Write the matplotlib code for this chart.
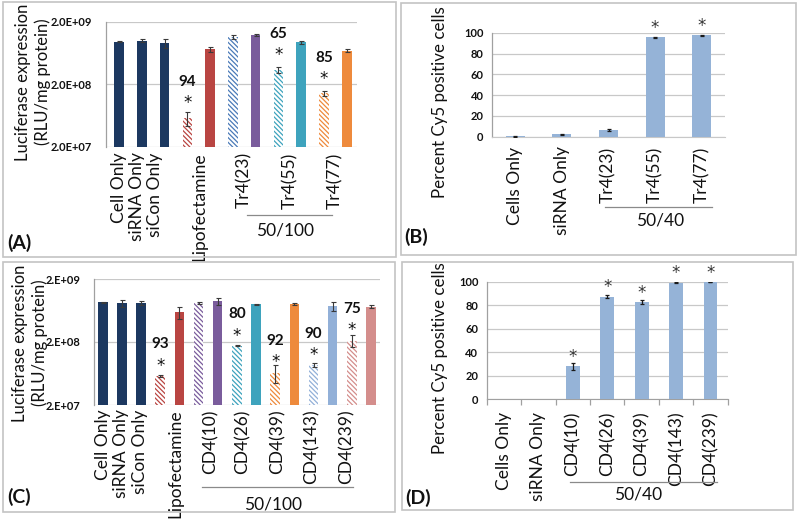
import numpy as np
import matplotlib
matplotlib.use('Agg')
import matplotlib.pyplot as plt
from matplotlib.lines import Line2D
from matplotlib.patches import Rectangle

plt.rcParams['font.family'] = ['Lato', 'DejaVu Sans']
plt.rcParams['hatch.linewidth'] = 0.9

W, H = 800, 520
TXT = '#111111'
GRID = '#c8c8c8'
AXC = '#a0a0a0'

NAVY = '#1c3860'
RED = '#b94542'
BLUE = '#4a7ab8'
PURPLE = '#7a5c9c'
TEAL = '#3ea3bd'
ORANGE = '#ee8a3c'
LBLUE = '#92b0d8'
PINK = '#d48e8c'

# ---------------- Panel A data ----------------
a_values = [9.6e8, 9.9e8, 9.0e8, 5.8e7, 7.2e8, 1.14e9, 1.22e9, 3.4e8, 9.4e8, 1.43e8, 6.9e8]
a_errors = [3e7, 5e7, 1.4e8, 1.5e7, 7.5e7, 7e7, 4e7, 4e7, 5e7, 1.3e7, 4e7]
a_colors = [NAVY, NAVY, NAVY, RED, RED, BLUE, PURPLE, TEAL, TEAL, ORANGE, ORANGE]
a_hatched = [0, 0, 0, 1, 0, 1, 0, 1, 0, 1, 0]
a_kd_index = [3, 7, 9]
a_kd_text = ['94', '65', '85']
a_tick_labels = ['Cell Only', 'siRNA Only', 'siCon Only', 'Lipofectamine', 'Tr4(23)', 'Tr4(55)', 'Tr4(77)']
a_tick_pos = [0, 0.8, 1.6, 3.55, 5.5, 7.5, 9.5]
a_yticks = [2e7, 2e8, 2e9]
a_yticklabels = ['2.0E+07', '2.0E+08', '2.0E+09']

# ---------------- Panel B data ----------------
b_labels = ['Cells Only', 'siRNA Only', 'Tr4(23)', 'Tr4(55)', 'Tr4(77)']
b_values = [0.3, 2.5, 6.5, 95.5, 97.6]
b_errors = [0.2, 0.4, 1.3, 0.8, 0.3]
b_star = [0, 0, 0, 1, 1]

# ---------------- Panel C data ----------------
c_values = [8.5e8, 8.3e8, 8.3e8, 5.8e7, 5.9e8, 8.3e8, 8.85e8, 1.73e8, 7.9e8, 6.5e7, 8.0e8, 8.6e7, 7.4e8, 2.1e8, 7.3e8]
c_errors = [2e7, 1.1e8, 7e7, 1.5e6, 1.2e8, 4e7, 1e8, 3e6, 1e7, 2.1e7, 4e7, 6e6, 1.2e8, 4.5e7, 4e7]
c_colors = [NAVY, NAVY, NAVY, RED, RED, PURPLE, PURPLE, TEAL, TEAL, ORANGE, ORANGE, LBLUE, LBLUE, PINK, PINK]
c_hatched = [0, 0, 0, 1, 0, 1, 0, 1, 0, 1, 0, 1, 0, 1, 0]
c_kd_index = [3, 7, 9, 11, 13]
c_kd_text = ['93', '80', '92', '90', '75']
c_tick_labels = ['Cell Only', 'siRNA Only', 'siCon Only', 'Lipofectamine', 'CD4(10)', 'CD4(26)',
                 'CD4(39)', 'CD4(143)', 'CD4(239)']
c_tick_pos = [0, 0.95, 1.95, 3.8, 5.6, 7.3, 9.1, 10.9, 12.7]
c_yticks = [2e7, 2e8, 2e9]
c_yticklabels = ['2.E+07', '2.E+08', '2.E+09']

# ---------------- Panel D data ----------------
d_labels = ['Cells Only', 'siRNA Only', 'CD4(10)', 'CD4(26)', 'CD4(39)', 'CD4(143)', 'CD4(239)']
d_values = [0, 0, 28, 87.3, 82.8, 99.2, 99.8]
d_errors = [0, 0, 3.2, 1.0, 1.8, 0.3, 0.3]
d_star = [0, 0, 1, 1, 1, 1, 1]

fig = plt.figure(figsize=(8, 5.2), dpi=100)

PT = 0.72  # points per pixel at 100 dpi
STAR_FS = 12
STAR_C = 0.58 * STAR_FS / PT  # px from baseline to star centre
NUM_FS = 11
NUM_C = 0.36 * NUM_FS / PT
XL_FS = 12.5


def px_axes(x0, y0, x1, y1):
    return fig.add_axes([x0 / W, 1 - y1 / H, (x1 - x0) / W, (y1 - y0) / H])


def fig_text(x, y, s, **kw):
    kw.setdefault('color', TXT)
    fig.text(x / W, 1 - y / H, s, **kw)


def fig_line(x0, x1, y, color='#8a8a8a'):
    fig.add_artist(Line2D([x0 / W, x1 / W], [1 - y / H, 1 - y / H], color=color, lw=0.9,
                          transform=fig.transFigure))


def border(x0, y0, x1, y1):
    fig.add_artist(Rectangle((x0 / W, 1 - y1 / H), (x1 - x0) / W, (y1 - y0) / H,
                             transform=fig.transFigure, fill=False, edgecolor='#c4c4c4', lw=1.2))


border(3, 2, 396, 257)
border(401, 3, 796, 255)
border(3, 262, 395, 512)
border(402, 262, 793, 510)


def star(ax, x, y, above_px, color=TXT):
    ax.annotate('*', (x, y), xytext=(0, (above_px - STAR_C) * PT), textcoords='offset points',
                ha='center', va='baseline', fontsize=STAR_FS, color=color, family='DejaVu Sans')


def lux_panel(ax, values, errors, colors, hatched, kd_idx, kd_txt, tpos, tlabels,
              yt, ytl, width, xlim, star_px, num_px, pad):
    x = np.arange(len(values))
    for i, (v, e, c, h) in enumerate(zip(values, errors, colors, hatched)):
        if h:
            ax.bar(x[i], v, width=width, facecolor='white', edgecolor=c, hatch='\\\\\\\\\\\\\\', lw=0,
                   zorder=3)
        else:
            ax.bar(x[i], v, width=width, color=c, lw=0, zorder=3)
        ax.errorbar(x[i], v, yerr=e, fmt='none', ecolor='#3a3a3a', elinewidth=0.8, capsize=1.8,
                    capthick=0.8, zorder=4)
    for i, t in zip(kd_idx, kd_txt):
        star(ax, x[i], values[i], star_px)
        ax.annotate(t, (x[i], values[i]), xytext=(0, (num_px - NUM_C) * PT), textcoords='offset points',
                    ha='center', va='baseline', fontsize=NUM_FS, color=TXT, fontweight='bold')
    ax.set_yscale('log')
    ax.set_ylim(yt[0], yt[-1])
    ax.set_xlim(*xlim)
    ax.yaxis.set_minor_locator(matplotlib.ticker.NullLocator())
    ax.set_yticks(yt)
    ax.set_yticklabels(ytl, fontsize=8, fontweight='bold', color=TXT)
    ax.set_xticks(tpos)
    ax.set_xticklabels(tlabels, rotation=90, fontsize=XL_FS, color=TXT, va='top', ha='center')
    ax.tick_params(axis='x', length=0, pad=pad)
    ax.tick_params(axis='y', length=0, pad=10)
    ax.grid(axis='y', color=GRID, lw=0.9, zorder=0)
    for s in ['top', 'right', 'bottom']:
        ax.spines[s].set_visible(False)
    ax.spines['left'].set_color(AXC)
    ax.spines['left'].set_linewidth(0.9)


def pct_panel(ax, values, errors, stars, labels, width, pad, boundary_ticks):
    x = np.arange(len(values))
    ax.bar(x, values, width=width, color='#95b3d7', lw=0, zorder=3)
    for i, (v, e) in enumerate(zip(values, errors)):
        if e > 0 or v > 0:
            ax.errorbar(x[i], v, yerr=e, fmt='none', ecolor='#1a1a1a', elinewidth=0.9, capsize=1.5,
                        capthick=0.9, zorder=4)
        if stars[i]:
            star(ax, x[i], v, 14, color='#333333')
    ax.set_ylim(0, 100)
    ax.set_xlim(-0.5, len(values) - 0.5)
    ax.set_yticks([0, 20, 40, 60, 80, 100])
    ax.set_yticklabels(['0', '20', '40', '60', '80', '100'], fontsize=8, fontweight='bold', color=TXT)
    ax.set_xticks(x)
    ax.set_xticklabels(labels, rotation=90, fontsize=XL_FS, color=TXT, va='top', ha='center')
    ax.tick_params(axis='x', length=0, pad=pad)
    ax.tick_params(axis='y', length=0, pad=6)
    if boundary_ticks:
        ax.set_xticks(np.arange(len(values) + 1) - 0.5, minor=True)
        ax.tick_params(axis='x', which='minor', length=4, color=AXC, width=0.9)
    ax.grid(axis='y', color=GRID, lw=0.9, zorder=0)
    for s in ['top', 'right']:
        ax.spines[s].set_visible(False)
    ax.spines['bottom'].set_color(AXC if boundary_ticks else GRID)
    ax.spines['left'].set_color(AXC)
    ax.spines['left'].set_linewidth(0.9)


LUX_LABEL = 'Luciferase expression\n(RLU/mg protein)'
PCT_LABEL = 'Percent Cy5 positive cells'

# Panel A
axA = px_axes(106, 21.7, 357, 146.7)
lux_panel(axA, a_values, a_errors, a_colors, a_hatched, a_kd_index, a_kd_text, a_tick_pos,
          a_tick_labels, a_yticks, a_yticklabels, 0.42, (-0.57, 10.45), 19, 37, 4)
fig_text(33, 82, LUX_LABEL, fontsize=12, rotation=90, ha='center', va='center', linespacing=1.25)
fig_line(247, 332, 215)
fig_text(285, 230, '50/100', fontsize=12.5, ha='center', va='center')
fig_text(7, 243, '(A)', fontsize=14, fontweight='bold', ha='left', va='center')

# Panel B
axB = px_axes(492, 32.7, 725, 136.7)
pct_panel(axB, b_values, b_errors, b_star, b_labels, 0.41, 7, False)
fig_text(440, 102, PCT_LABEL, fontsize=12.2, rotation=90, ha='center', va='center')
fig_line(605, 712, 207)
fig_text(660, 221, '50/40', fontsize=12.5, ha='center', va='center')
fig_text(404, 237, '(B)', fontsize=14, fontweight='bold', ha='left', va='center')

# Panel C
axC = px_axes(94.3, 279, 380, 405)
lux_panel(axC, c_values, c_errors, c_colors, c_hatched, c_kd_index, c_kd_text, c_tick_pos,
          c_tick_labels, c_yticks, c_yticklabels, 0.5, (-0.44, 14.47), 15, 33, 3)
fig_text(30, 343, LUX_LABEL, fontsize=12, rotation=90, ha='center', va='center', linespacing=1.25)
fig_line(202, 353, 487)
fig_text(273, 505, '50/100', fontsize=12.5, ha='center', va='center')
fig_text(7, 497, '(C)', fontsize=14, fontweight='bold', ha='left', va='center')

# Panel D
axD = px_axes(486.7, 281.7, 727.7, 399.3)
pct_panel(axD, d_values, d_errors, d_star, d_labels, 0.4, 9, True)
fig_text(440, 358, PCT_LABEL, fontsize=12.2, rotation=90, ha='center', va='center')
fig_line(570, 717, 482)
fig_text(638, 494, '50/40', fontsize=12.5, ha='center', va='center')
fig_text(405, 498, '(D)', fontsize=14, fontweight='bold', ha='left', va='center')

fig.savefig('out.png', dpi=100)
